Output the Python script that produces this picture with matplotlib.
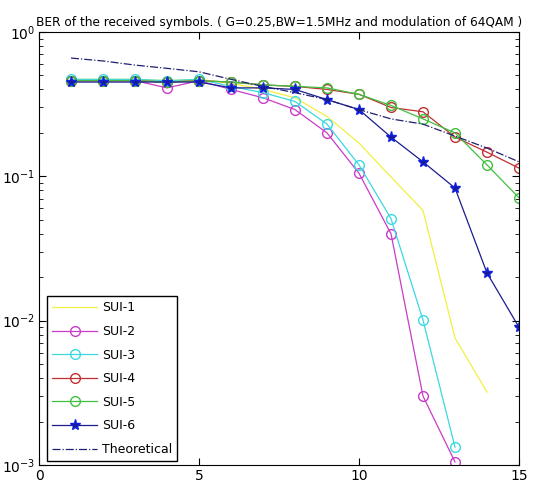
import numpy as np
import matplotlib
matplotlib.use('Agg')
import matplotlib.pyplot as plt
from matplotlib import rcParams

rcParams['font.family'] = ['DejaVu Sans']
rcParams['font.size'] = 10
rcParams['mathtext.default'] = 'regular'

# SNR points (x axis)
snr = np.arange(1, 16)

# BER values
sui1 = [0.47, 0.47, 0.47, 0.46, 0.47, 0.44, 0.40, 0.35, 0.26, 0.17, 0.099, 0.058, 0.0076, 0.0032]
sui2 = [0.46, 0.46, 0.46, 0.41, 0.46, 0.40, 0.35, 0.29, 0.20, 0.105, 0.040, 0.0030, 0.00105]
sui3 = [0.47, 0.47, 0.47, 0.46, 0.47, 0.42, 0.38, 0.33, 0.23, 0.12, 0.051, 0.0101, 0.00133]
sui4 = [0.46, 0.46, 0.46, 0.45, 0.46, 0.45, 0.43, 0.42, 0.40, 0.37, 0.30, 0.28, 0.187, 0.147, 0.114]
sui5 = [0.46, 0.46, 0.46, 0.45, 0.46, 0.45, 0.43, 0.42, 0.41, 0.37, 0.31, 0.25, 0.20, 0.12, 0.071]
sui6 = [0.45, 0.45, 0.45, 0.45, 0.45, 0.41, 0.41, 0.40, 0.34, 0.29, 0.187, 0.126, 0.083, 0.0214, 0.0090]
theory = [0.66, 0.63, 0.59, 0.56, 0.53, 0.47, 0.42, 0.38, 0.34, 0.29, 0.25, 0.23, 0.19, 0.157, 0.126]

fig = plt.figure(figsize=(5.37, 4.86), dpi=100)
ax = fig.add_axes([39/537, 1 - 465/486, 480/537, 433/486])

lw = 0.9
ax.semilogy(snr[:len(sui1)], sui1, '-', color='#f2f040', lw=lw, label='SUI-1')
ax.semilogy(snr[:len(sui2)], sui2, '-o', color='#c83cc8', lw=lw, ms=7, mfc='none', label='SUI-2')
ax.semilogy(snr[:len(sui3)], sui3, '-o', color='#3cd8e0', lw=lw, ms=7, mfc='none', label='SUI-3')
ax.semilogy(snr, sui4, '-o', color='#c03030', lw=lw, ms=7, mfc='none', label='SUI-4')
ax.semilogy(snr, sui5, '-o', color='#40c040', lw=lw, ms=7, mfc='none', label='SUI-5')
ax.semilogy(snr, sui6, '-*', color='#1c1c90', mec='#1020e0', lw=lw, ms=8, label='SUI-6')
ax.semilogy(snr, theory, '-.', color='#202070', lw=lw, label='Theoretical')

ax.set_xlim(0, 15)
ax.set_ylim(1e-3, 1)
ax.set_xticks([0, 5, 10, 15])
ax.tick_params(which='both', direction='in', top=True, right=True, labelsize=10, pad=3)
ax.tick_params(which='major', length=5)
ax.tick_params(which='minor', length=3)
ax.set_title('BER of the received symbols. ( G=0.25,BW=1.5MHz and modulation of 64QAM )',
             fontsize=8.7, pad=4)

ax.legend(loc='lower left', bbox_to_anchor=(0.017, 0.009), borderaxespad=0,
          fancybox=False, edgecolor='black', framealpha=1, labelspacing=0.85,
          handlelength=3.6, handletextpad=0.4, fontsize=9)

fig.savefig('out.png', dpi=100)
